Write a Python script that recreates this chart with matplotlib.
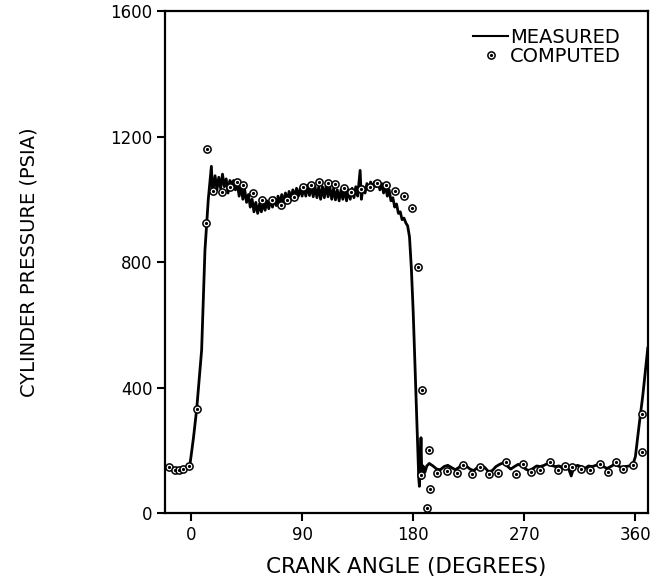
import matplotlib
matplotlib.use("Agg")
import matplotlib.pyplot as plt
from matplotlib.lines import Line2D

# measured cylinder pressure trace (crank angle in degrees, pressure in psia)
meas_angle = [-21, -18, -15, -12, -9, -6, -3, -1, 2, 4.6, 8.6, 11.3, 14, 16.5, 17.5,
              19.5, 21, 22.5, 24, 25.5, 27, 28.5, 30, 31.5, 33, 34.5, 36, 37.5, 39,
              40.5, 42, 43.5, 45, 46.5, 48, 49.5, 51, 52.5, 54, 55.5, 57, 58.5, 60,
              61.5, 63, 64.5, 66, 67.5, 69, 70.5, 72, 73.5, 75, 76.5, 78, 79.5, 81,
              82.5, 84, 85.5, 87, 88.5, 90, 91.5, 93, 94.5, 96, 97.5, 99, 100.5, 102,
              103.5, 105, 106.5, 108, 109.5, 111, 112.5, 114, 115.5, 117, 118.5, 120,
              121.5, 123, 124.5, 126, 127.5, 129, 130.5, 132, 133.5, 135, 136, 137,
              138, 139.5, 141, 142.5, 144, 145.5, 147, 148.5, 150, 151.5, 153, 154.5,
              156, 157.5, 159, 160.5, 162, 163.5, 165, 166.5, 168, 169.5, 171, 172.5,
              174, 175.5, 177, 178.5, 180, 181.5, 183, 184.5, 185, 185.7, 186.3, 187,
              188, 189.5, 191, 193, 196, 199, 202, 205, 208, 211, 214, 217, 220, 223,
              226, 229, 232, 235, 238, 241, 244, 247, 250, 253, 256, 259, 262, 265,
              268, 271, 274, 277, 280, 283, 286, 289, 292, 295, 298, 301, 304, 306,
              308, 310, 313, 316, 319, 322, 325, 328, 331, 334, 337, 340, 343, 346,
              349, 352, 355, 358, 360, 363, 366, 370]
meas_psi = [150, 145, 138, 136, 137, 140, 143, 150, 240, 331, 519, 838, 1000, 1105, 1020,
            1075, 1030, 1070, 1035, 1080, 1040, 1065, 1020, 1060, 1045, 1060, 1030, 1050, 1010,
            1045, 1000, 1030, 990, 1015, 975, 1000, 960, 990, 955, 985, 960, 990, 965,
            995, 970, 1000, 975, 1005, 980, 1010, 985, 1015, 990, 1020, 995, 1025, 1000,
            1030, 1005, 1035, 1010, 1035, 1010, 1040, 1010, 1045, 1012, 1045, 1008, 1040, 1005,
            1040, 1000, 1040, 1005, 1045, 1008, 1040, 1000, 1035, 998, 1030, 995,
            1030, 1000, 1035, 995, 1030, 1000, 1035, 1005, 1040, 1010, 1050, 1092,
            1000, 1040, 1020, 1050, 1030, 1055, 1035, 1055, 1040, 1055, 1030, 1050,
            1020, 1045, 1010, 1030, 995, 1005, 975, 985, 955, 960, 935, 940,
            925, 915, 880, 780, 640, 460, 270, 110, 85, 150, 240, 110,
            150, 130, 150, 158, 150, 140, 138, 148, 152, 145, 138, 145, 158, 150,
            140, 135, 145, 152, 145, 132, 135, 148, 155, 160, 150, 140, 148, 155,
            150, 140, 135, 142, 150, 148, 152, 158, 152, 148, 150, 146, 150, 140,
            118, 145, 152, 148, 142, 150, 148, 152, 155, 148, 142, 148, 155, 150,
            145, 148, 150, 155, 180, 280, 375, 525]

# computed points
comp_angle = [-17.8, -13, -9.4, -6.7, -1.3, 4.6, 12.1, 13.2, 18, 24.8, 31.6, 37.5, 42.3,
              50.4, 57.2, 65.3, 72.8, 77.4, 83.3, 90.9, 97.6, 103.8, 110.6, 117, 123.8,
              130, 137.5, 144.8, 151, 157.8, 165, 172.6, 179.4, 184, 187, 193, 194, 191,
              186.6, 199, 207, 215.5, 220, 228, 234, 241.5, 249, 255, 263, 269, 275.6,
              283, 291, 297, 303, 309, 316, 323.5, 331, 337.6, 344, 350, 358, 365, 365]
comp_psi = [148, 137, 137, 140, 150, 331, 923, 1159, 1027, 1024, 1040, 1056, 1045,
            1019, 998, 998, 982, 998, 1008, 1038, 1045, 1054, 1051, 1048, 1035,
            1024, 1032, 1040, 1051, 1045, 1027, 1010, 971, 783, 392, 201, 76, 16,
            121, 128, 135, 128, 153, 123, 146, 123, 128, 161, 123, 156, 132,
            137, 161, 138, 150, 146, 141, 137, 156, 132, 161, 141, 153, 194, 316]

x_ticks = [0, 90, 180, 270, 360]
y_ticks = [0, 400, 800, 1200, 1600]

plt.rcParams['font.family'] = ['DejaVu Sans']

fig = plt.figure(figsize=(6.63, 5.80), dpi=100)
ax = fig.add_axes([0.249, 0.1155, 0.728, 0.8655])

ax.plot(meas_angle, meas_psi, color='black', lw=2.0, solid_joinstyle='round')
ax.plot(comp_angle, comp_psi, ls='none', marker='o', ms=5.2, mfc='white', mec='black', mew=1.1)
ax.plot(comp_angle, comp_psi, ls='none', marker='o', ms=1.3, color='black')

ax.set_xlim(-21, 370)
ax.set_ylim(0, 1600)
ax.set_xticks(x_ticks)
ax.set_yticks(y_ticks)
ax.tick_params(direction='out', length=6, width=1.5, labelsize=12, pad=3)
for s in ax.spines.values():
    s.set_linewidth(1.6)

ax.set_xlabel('CRANK ANGLE (DEGREES)', fontsize=15.5, labelpad=10)
ax.set_ylabel('CYLINDER PRESSURE (PSIA)', fontsize=14, labelpad=52)

h_meas = Line2D([], [], color='black', lw=1.5)
h_ring = Line2D([], [], ls='none', marker='o', ms=5.2, mfc='white', mec='black', mew=1.1)
h_dot = Line2D([], [], ls='none', marker='o', ms=1.3, color='black')
ax.legend([h_meas, (h_ring, h_dot)], ['MEASURED', 'COMPUTED'], loc='upper right',
          bbox_to_anchor=(0.965, 0.985), frameon=False, fontsize=14,
          handlelength=1.8, handletextpad=0.1, labelspacing=0.0, borderpad=0)

fig.savefig('out.png', dpi=100)
